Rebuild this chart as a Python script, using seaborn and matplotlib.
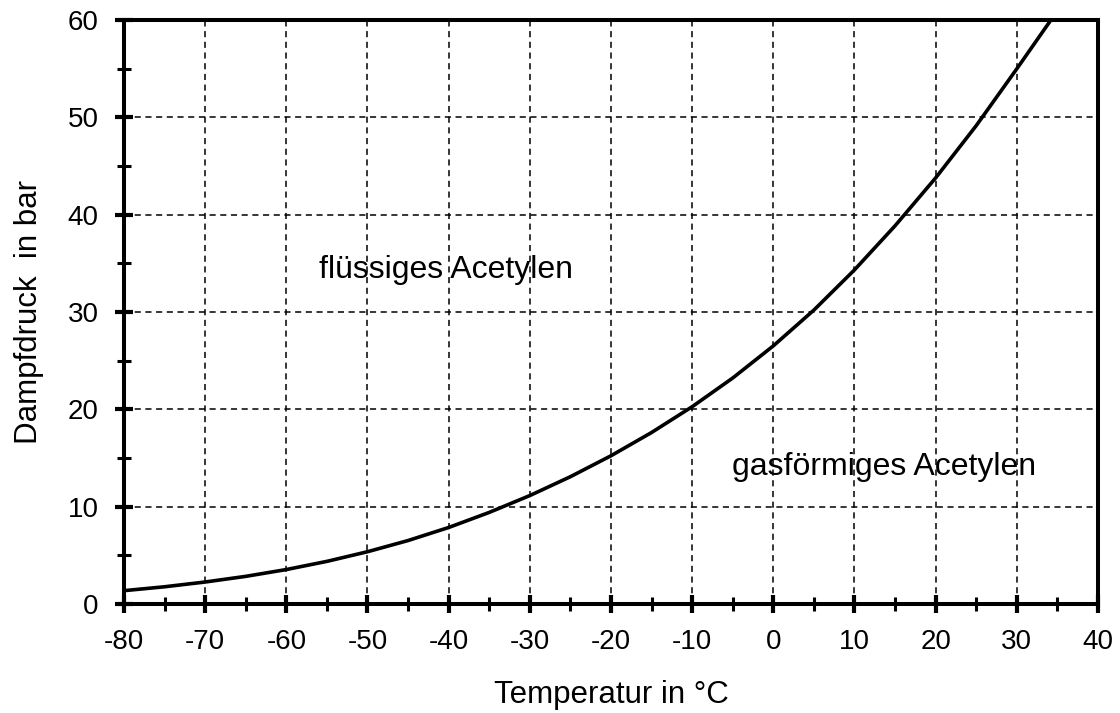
import matplotlib
matplotlib.use("Agg")
import matplotlib.pyplot as plt
from matplotlib.ticker import MultipleLocator
import seaborn as sns
import pandas as pd

# Data (vapour pressure of acetylene)
temperature_c = [-80, -75, -70, -65, -60, -55, -50, -45, -40, -35, -30, -25,
                 -20, -15, -10, -5, 0, 5, 10, 15, 20, 25, 30, 34.2]
pressure_bar = [1.37, 1.77, 2.26, 2.84, 3.54, 4.38, 5.37, 6.52, 7.86, 9.41, 11.14, 13.08,
                15.23, 17.62, 20.27, 23.22, 26.52, 30.2, 34.33, 38.86, 43.78, 49.15, 54.99, 60.0]

x_ticks = [-80, -70, -60, -50, -40, -30, -20, -10, 0, 10, 20, 30, 40]
y_ticks = [0, 10, 20, 30, 40, 50, 60]

label_liquid = "flüssiges Acetylen"
label_gas = "gasförmiges Acetylen"
x_label = "Temperatur in °C"
y_label = "Dampfdruck  in bar"

sns.set_style("white")
plt.rcParams["font.family"] = ["Liberation Sans", "DejaVu Sans"]

df = pd.DataFrame({"T": temperature_c, "p": pressure_bar})

fig = plt.figure(figsize=(11.2, 7.13), dpi=100)
ax = fig.add_axes([124 / 1120, 1 - 604 / 713, (1098 - 124) / 1120, (604 - 20) / 713])

sns.lineplot(data=df, x="T", y="p", ax=ax, color="black", linewidth=2.6,
             sort=False, estimator=None, zorder=5)

ax.set_xlim(-80, 40)
ax.set_ylim(0, 60)
ax.set_xticks(x_ticks)
ax.set_yticks(y_ticks)
ax.set_xticklabels([str(v) for v in x_ticks])
ax.set_yticklabels([str(v) for v in y_ticks])
ax.xaxis.set_minor_locator(MultipleLocator(5))
ax.yaxis.set_minor_locator(MultipleLocator(5))

ax.grid(True, which="major", color="black", linestyle=(0, (4, 3)), linewidth=1.1)
ax.grid(False, which="minor")
ax.set_axisbelow(True)

for s in ax.spines.values():
    s.set_visible(True)
    s.set_color("black")
    s.set_linewidth(2.9)
    s.set_zorder(6)

ax.tick_params(axis="both", which="both", bottom=True, left=True, top=False, right=False)
ax.tick_params(axis="both", which="major", direction="inout", length=12.5, width=3.0,
               color="black", labelsize=20, labelcolor="black")
ax.tick_params(axis="both", which="minor", direction="inout", length=10, width=2.2,
               color="black")
ax.tick_params(axis="x", which="major", pad=12)
ax.tick_params(axis="y", which="major", pad=12)

ax.set_xlabel(x_label, fontsize=22.5, labelpad=18, color="black")
ax.set_ylabel(y_label, fontsize=22.5, labelpad=17, color="black")

ax.text(-40.3, 34.3, label_liquid, fontsize=23, ha="center", va="center", color="black")
ax.text(13.7, 14.1, label_gas, fontsize=23, ha="center", va="center", color="black")

fig.savefig("out.png", dpi=100, facecolor="white")
